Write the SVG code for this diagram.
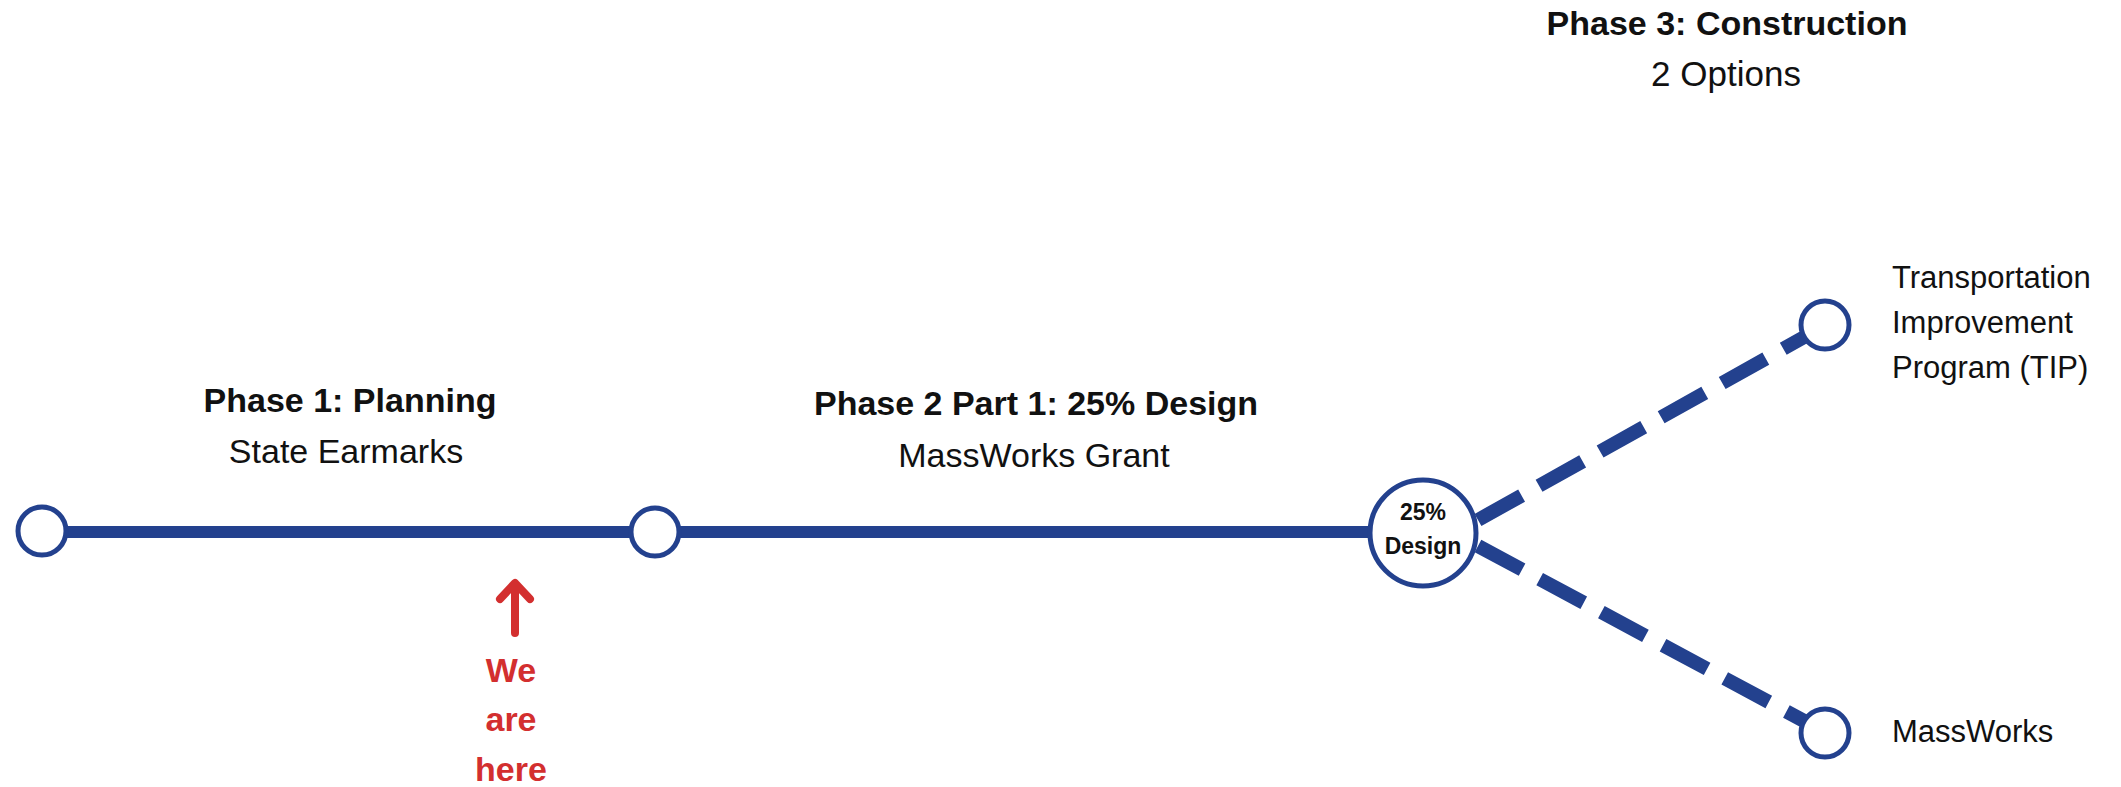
<svg xmlns="http://www.w3.org/2000/svg" width="2121" height="787" viewBox="0 0 2121 787">
  <style>
    .t { font-family: "Liberation Sans", Arial, sans-serif; fill: #111; }
    .b { font-weight: bold; }
    .node { fill: #fff; stroke: #23418e; stroke-width: 5; }
    .solid { stroke: #23418e; stroke-width: 12; fill: none; }
    .dash { stroke: #23418e; stroke-width: 14; fill: none; stroke-dasharray: 50 20; }
    .red { fill: #d32f2f; font-family: "Liberation Sans", Arial, sans-serif; font-weight: bold; }
  </style>
  <rect width="2121" height="787" fill="#fff"/>
  <g id="connectors">
    <line class="solid" x1="42" y1="532" x2="1423" y2="532"/>
    <line class="dash" x1="1478" y1="520" x2="1806" y2="336"/>
    <line class="dash" x1="1478" y1="546" x2="1806" y2="722"/>
  </g>
  <g id="node-start">
    <circle class="node" cx="42" cy="531" r="24"/>
  </g>
  <g id="node-phase2">
    <circle class="node" cx="655" cy="532" r="24"/>
  </g>
  <g id="node-25design">
    <circle class="node" cx="1423" cy="533" r="53"/>
    <text class="t b" x="1423" y="520" font-size="23" text-anchor="middle">25%</text>
    <text class="t b" x="1423" y="554" font-size="23" text-anchor="middle">Design</text>
  </g>
  <g id="node-tip">
    <circle class="node" cx="1825" cy="325" r="24"/>
    <text class="t" x="1892" y="288" font-size="31">Transportation</text>
    <text class="t" x="1892" y="333" font-size="31">Improvement</text>
    <text class="t" x="1892" y="378" font-size="31">Program (TIP)</text>
  </g>
  <g id="node-massworks">
    <circle class="node" cx="1825" cy="733" r="24"/>
    <text class="t" x="1892" y="742" font-size="31">MassWorks</text>
  </g>
  <g id="label-phase1">
    <text class="t b" x="350" y="412" font-size="34" text-anchor="middle">Phase 1: Planning</text>
    <text class="t" x="346" y="463" font-size="34" text-anchor="middle">State Earmarks</text>
  </g>
  <g id="label-phase2">
    <text class="t b" x="1036" y="415" font-size="34" text-anchor="middle">Phase 2 Part 1: 25% Design</text>
    <text class="t" x="1034" y="467" font-size="34" text-anchor="middle">MassWorks Grant</text>
  </g>
  <g id="label-phase3">
    <text class="t b" x="1727" y="35" font-size="34" text-anchor="middle">Phase 3: Construction</text>
    <text class="t" x="1726" y="86" font-size="35" text-anchor="middle">2 Options</text>
  </g>
  <g id="we-are-here">
    <path d="M515 633 V584 M500 599 L515 583 L530 599" fill="none" stroke="#d32f2f" stroke-width="8" stroke-linecap="round" stroke-linejoin="round"/>
    <text class="red" x="511" y="682" font-size="34" text-anchor="middle">We</text>
    <text class="red" x="511" y="731" font-size="34" text-anchor="middle">are</text>
    <text class="red" x="511" y="781" font-size="34" text-anchor="middle">here</text>
  </g>
</svg>
